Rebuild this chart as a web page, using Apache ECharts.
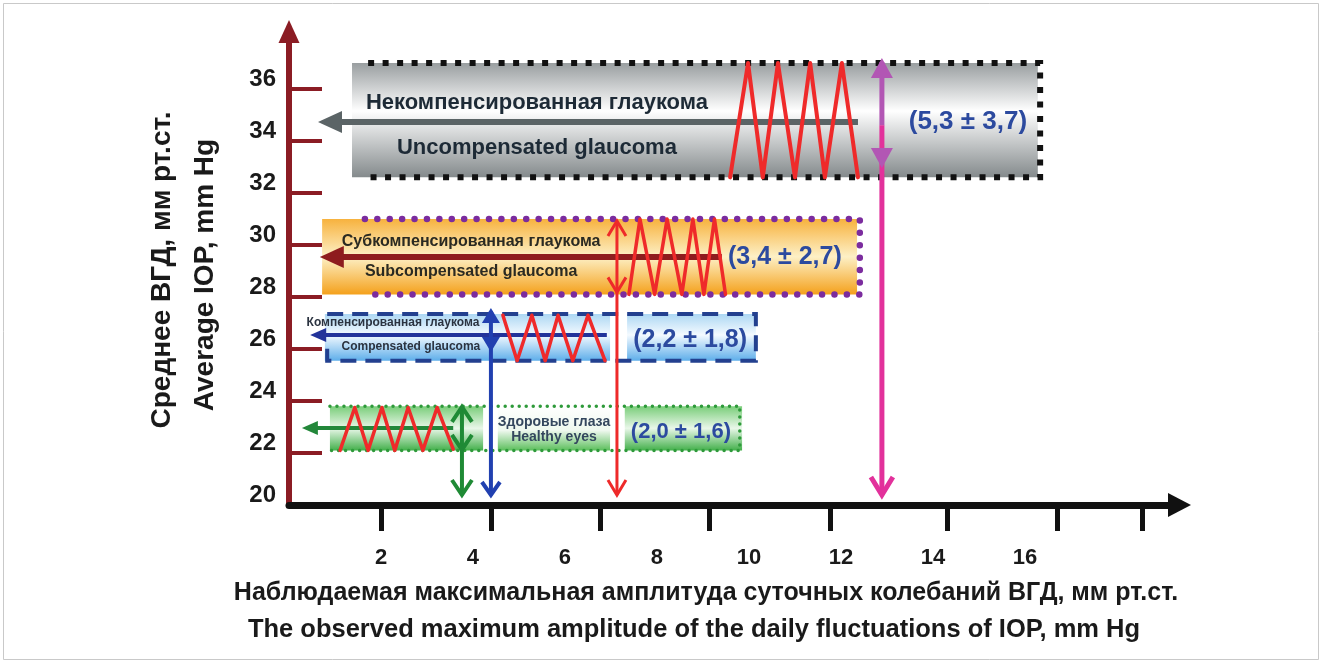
<!DOCTYPE html>
<html><head><meta charset="utf-8">
<script src="https://cdn.jsdelivr.net/npm/echarts@6/dist/echarts.min.js"></script>
<style>html,body{margin:0;padding:0;background:#fff}#c{width:1323px;height:666px}</style>
</head><body><div id="c"></div>
<script>
// ---------------- DATA ----------------
const groupNamesRu = ['Некомпенсированная глаукома', 'Субкомпенсированная глаукома', 'Компенсированная глаукома', 'Здоровые глаза'];
const groupNamesEn = ['Uncompensated glaucoma', 'Subcompensated glaucoma', 'Compensated glaucoma', 'Healthy eyes'];
const ampMean = [5.3, 3.4, 2.2, 2.0];
const ampSd = [3.7, 2.7, 1.8, 1.6];
const iopLow = [32.6, 28.1, 25.55, 22.1];
const iopHigh = [37.0, 31.0, 27.35, 23.8];
const iopLevel = [34.73, 29.54, 26.54, 22.96];
const maxAmplitude = [12.89, 7.13, 4.39, 3.76];
const zigzagUncomp = [[9.59,32.6],[9.98,37.0],[10.30,32.6],[10.63,37.0],[11.0,32.6],[11.33,37.0],[11.65,32.6],[12.02,37.0],[12.37,32.6]];
const zigzagSubcomp = [[7.39,28.1],[7.63,31.0],[7.95,28.1],[8.22,31.0],[8.54,28.1],[8.78,31.0],[9.02,28.1],[9.25,31.0],[9.49,28.1]];
const zigzagComp = [[4.65,27.3],[4.96,25.55],[5.28,27.3],[5.57,25.55],[5.85,27.3],[6.17,25.55],[6.5,27.3],[6.87,25.55]];
const zigzagHealthy = [[1.11,22.1],[1.43,23.75],[1.72,22.1],[2.02,23.75],[2.30,22.1],[2.59,23.75],[2.91,22.1],[3.22,23.75],[3.57,22.15]];
const xTickLabels = [2, 4, 6, 8, 10, 12, 14, 16];
const xTickMarks = [2.0, 4.4, 6.77, 9.13, 11.76, 14.32, 16.7, 18.54];
const yTickLabels = [20, 22, 24, 26, 28, 30, 32, 34, 36];
const yTickMarks = [22, 24, 26, 28, 30, 32, 34, 36];
const xTitle = ['Наблюдаемая максимальная амплитуда суточных колебаний ВГД, мм рт.ст.',
                'The observed maximum amplitude of the daily fluctuations of IOP, mm Hg'];
const yTitle = ['Среднее ВГД, мм рт.ст.', 'Average IOP, mm Hg'];
const zigzags = [zigzagUncomp, zigzagSubcomp, zigzagComp, zigzagHealthy];

// ---------------- LAYOUT / STYLE ----------------
const FONT = '"Liberation Sans", Arial, sans-serif';
const fills = {
  gray: [[0,'#999ea0'],[0.42,'#ffffff'],[1,'#848a8c']],
  orange: [[0,'#f7b23e'],[0.5,'#fdf0c6'],[1,'#f4a11c']],
  blue: [[0,'#acd7f3'],[0.45,'#f4faff'],[1,'#5eaeea']],
  green: [[0,'#79cd79'],[0.5,'#e9f7e9'],[1,'#43b04b']],
  greenText: [[0,'#ffffff'],[0.55,'#eef8ee'],[1,'#5cbf5c']]
};
const layout = [
  { segs: [[1.37, 16.28, 'gray']],
    border: { x0: 1.72, x1: 16.33, color: '#111', width: 6, dash: [6, 8.5], cap: 'butt' },
    arrow: { tip: 0.63, end: 12.37, color: '#5b6466', width: 6, head: [24, 11] },
    zz: 4,
    v: { color: '#e2319b', topColor: '#b256b4', split: 34.6, filled: true, width: 5, topY: 37.19, midY: 32.96, hw: 11, hh: 20 },
    ru: { x: 5.39, y: 35.46, size: 22 }, en: { x: 5.39, y: 33.73, size: 22 }, nameColor: '#1d2a36',
    label: { x: 14.76, y: 34.73, size: 26 } },
  { segs: [[0.72, 12.35, 'orange']],
    border: { x0: 1.65, x1: 12.41, color: '#7b2c9e', width: 6.5, dash: [0.01, 12.4], cap: 'round' },
    arrow: { tip: 0.67, end: 9.41, color: '#8e1c1e', width: 6, head: [24, 11] },
    zz: 3.5,
    v: { color: '#ee2a2a', width: 3, topY: 31.0, midY: 28.1, hw: 9, hh: 17 },
    ru: { x: 3.96, y: 30.12, size: 16 }, en: { x: 3.96, y: 28.96, size: 16 }, nameColor: '#2a2a22',
    label: { x: 10.78, y: 29.54, size: 25 } },
  { segs: [[0.78, 6.98, 'blue'], [7.35, 10.15, 'blue']],
    border: { x0: 0.83, x1: 10.15, color: '#23408f', width: 4, dash: [16, 9], cap: 'butt', left: 0.45 },
    arrow: { tip: 0.46, end: 6.91, color: '#23339a', width: 4, head: [16, 7] },
    zz: 3.5,
    v: { color: '#2140b0', width: 4, topY: 27.58, midY: 25.88, hw: 9, hh: 15, filled: true },
    ru: { x: 2.26, y: 27.0, size: 12 }, en: { x: 2.65, y: 26.08, size: 12 }, nameColor: '#2b3340',
    label: { x: 8.72, y: 26.35, size: 25 } },
  { segs: [[0.89, 4.22, 'green'], [4.54, 6.98, 'greenText'], [7.3, 9.85, 'green']],
    border: { x0: 0.89, x1: 9.8, color: '#2e9a3a', width: 3.5, dash: [0.01, 7], cap: 'round' },
    arrow: { tip: 0.28, end: 3.57, color: '#23873a', width: 4, head: [16, 7] },
    zz: 3.5,
    v: { color: '#1f8a35', width: 4, topY: 23.85, midY: 22.04, hw: 10, hh: 17 },
    ru: { x: 5.76, y: 23.19, size: 14 }, en: { x: 5.76, y: 22.62, size: 14 }, nameColor: '#34475e',
    label: { x: 8.52, y: 22.81, size: 22 } }
];

// ---------------- HELPERS ----------------
const G = echarts.graphic;
const vgrad = stops => new G.LinearGradient(0, 0, 0, 1, stops.map(([o, c]) => ({ offset: o, color: c })));
const fmt = v => v.toFixed(1).replace('.', ',');
const fmtLabel = i => '(' + fmt(ampMean[i]) + ' ± ' + fmt(ampSd[i]) + ')';
const items = groupNamesEn.map((_, i) => [maxAmplitude[i], iopLevel[i]]);

function layer(name, z, draw) {
  return { type: 'custom', name, coordinateSystem: 'cartesian2d', z, silent: true, animation: false, clip: false,
    data: items, renderItem: (params, api) => draw(params.dataIndex, (x, y) => api.coord([x, y])) };
}

function drawFills(i, c) {
  const top = c(0, iopHigh[i])[1], bot = c(0, iopLow[i])[1];
  return { type: 'group', children: layout[i].segs.map(([x0, x1, k]) => {
    const a = c(x0, 20)[0], b = c(x1, 20)[0];
    return { type: 'rect', shape: { x: a, y: top, width: b - a, height: bot - top }, style: { fill: vgrad(fills[k]) } };
  }) };
}
function drawBorder(i, c) {
  const B = layout[i].border;
  const top = c(0, iopHigh[i])[1], bot = c(0, iopLow[i])[1];
  const x0 = c(B.x0, 20)[0], x1 = c(B.x1, 20)[0];
  const pts = [[x0, top], [x1, top], [x1, bot], [x0, bot]];
  if (B.left) pts.push([x0, bot - (bot - top) * B.left]);
  return { type: 'polyline', shape: { points: pts },
    style: { fill: null, stroke: B.color, lineWidth: B.width, lineDash: B.dash, lineCap: B.cap, lineJoin: 'miter' } };
}
function drawHArrow(i, c) {
  const A = layout[i].arrow;
  const tip = c(A.tip, iopLevel[i]), end = c(A.end, iopLevel[i]);
  const [hl, hw] = A.head;
  return { type: 'group', children: [
    { type: 'line', shape: { x1: end[0], y1: end[1], x2: tip[0] + hl - 2, y2: tip[1] }, style: { stroke: A.color, lineWidth: A.width } },
    { type: 'polygon', shape: { points: [[tip[0], tip[1]], [tip[0] + hl, tip[1] - hw], [tip[0] + hl, tip[1] + hw]] }, style: { fill: A.color } }
  ] };
}
function drawZigzag(i, c) {
  return { type: 'polyline', shape: { points: zigzags[i].map(p => c(p[0], p[1])) },
    style: { fill: null, stroke: '#ef2a2a', lineWidth: layout[i].zz, lineJoin: 'round', lineCap: 'round' } };
}
function head(tip, dir, V, color, filled) {
  const w = V.hw, h = V.hh, by = tip[1] - dir * h;
  if (filled) return { type: 'polygon', shape: { points: [[tip[0], tip[1]], [tip[0] - w, by], [tip[0] + w, by]] }, style: { fill: color } };
  return { type: 'polyline', shape: { points: [[tip[0] - w, by], [tip[0], tip[1] - dir * 2], [tip[0] + w, by]] },
    style: { fill: null, stroke: color, lineWidth: V.width, lineJoin: 'miter' } };
}
function drawVArrow(i, c) {
  const V = layout[i].v, x = maxAmplitude[i];
  const top = c(x, V.topY), mid = c(x, V.midY), ax = c(x, 20);
  const bot = [ax[0], ax[1] - 8];
  const ch = [];
  const upColor = V.topColor || V.color;
  if (V.topColor) {
    const sp = c(x, V.split);
    ch.push({ type: 'line', shape: { x1: top[0], y1: top[1] + 4, x2: sp[0], y2: sp[1] }, style: { stroke: V.topColor, lineWidth: V.width } });
    ch.push({ type: 'line', shape: { x1: sp[0], y1: sp[1], x2: bot[0], y2: bot[1] - 2 }, style: { stroke: V.color, lineWidth: V.width } });
  } else {
    ch.push({ type: 'line', shape: { x1: top[0], y1: top[1] + 3, x2: bot[0], y2: bot[1] - 2 }, style: { stroke: V.color, lineWidth: V.width } });
  }
  ch.push(head(top, -1, V, upColor, !!V.filled));
  ch.push(head(mid, 1, V, upColor, !!V.filled));
  ch.push(head(bot, 1, V, V.color, false));
  return { type: 'group', children: ch };
}
function txt(p, text, size, color) {
  return { type: 'text', x: p[0], y: p[1], style: { text, fontSize: size, fontWeight: 'bold', fontFamily: FONT,
    fill: color, align: 'center', verticalAlign: 'middle' } };
}
function drawTexts(i, c) {
  const L = layout[i];
  return { type: 'group', children: [
    txt(c(L.ru.x, L.ru.y), groupNamesRu[i], L.ru.size, L.nameColor),
    txt(c(L.en.x, L.en.y), groupNamesEn[i], L.en.size, L.nameColor),
    txt(c(L.label.x, L.label.y), fmtLabel(i), L.label.size, '#2c4a9f')
  ] };
}

// ---------------- CHART ----------------
const chart = echarts.init(document.getElementById('c'), null, { renderer: 'canvas' });
chart.setOption({
  animation: false,
  backgroundColor: '#ffffff',
  grid: { left: 289, right: 143.5, top: 31.5, bottom: 161 },
  xAxis: {
    type: 'value', min: 0, max: 19.36, interval: 2,
    splitLine: { show: false },
    axisLine: { show: true, lineStyle: { color: '#111', width: 7 }, symbol: ['none', 'triangle'], symbolSize: [24, 23] },
    axisTick: { show: true, customValues: xTickMarks, length: 26, lineStyle: { color: '#111', width: 5 } },
    axisLabel: { customValues: xTickLabels, margin: 42, fontSize: 22, fontWeight: 'bold', fontFamily: FONT, color: '#1a1a1a' }
  },
  yAxis: {
    type: 'value', min: 20, max: 38.21, interval: 2,
    splitLine: { show: false },
    axisLine: { show: true, lineStyle: { color: '#8b1c24', width: 6 }, symbol: ['none', 'triangle'], symbolSize: [21, 23] },
    axisTick: { show: true, inside: true, customValues: yTickMarks, length: 33, lineStyle: { color: '#8b1c24', width: 4 } },
    axisLabel: { customValues: yTickLabels, margin: 13, verticalAlign: 'bottom', lineHeight: 20, fontSize: 24, fontWeight: 'bold', fontFamily: FONT, color: '#1a1a1a' }
  },
  graphic: [
    { type: 'rect', silent: true, z: -10, shape: { x: 3.5, y: 3.5, width: 1315, height: 656 }, style: { fill: null, stroke: '#c9c9c9', lineWidth: 1 } },
    { type: 'text', x: 706, y: 593, style: { text: xTitle[0], fontSize: 25, fontWeight: 'bold', fontFamily: FONT, fill: '#1a1a1a', align: 'center', verticalAlign: 'middle' } },
    { type: 'text', x: 694, y: 630, style: { text: xTitle[1], fontSize: 25.5, fontWeight: 'bold', fontFamily: FONT, fill: '#1a1a1a', align: 'center', verticalAlign: 'middle' } },
    { type: 'text', x: 162, y: 270, rotation: Math.PI / 2, style: { text: yTitle[0], fontSize: 28, fontWeight: 'bold', fontFamily: FONT, fill: '#1a1a1a', align: 'center', verticalAlign: 'middle' } },
    { type: 'text', x: 205, y: 275, rotation: Math.PI / 2, style: { text: yTitle[1], fontSize: 28, fontWeight: 'bold', fontFamily: FONT, fill: '#1a1a1a', align: 'center', verticalAlign: 'middle' } }
  ],
  series: [
    layer('fills', 2, drawFills),
    layer('borders', 3, drawBorder),
    layer('hArrows', 4, drawHArrow),
    layer('zigzags', 5, drawZigzag),
    layer('vArrows', 6, drawVArrow),
    layer('texts', 7, drawTexts)
  ]
});
</script>
</body></html>
